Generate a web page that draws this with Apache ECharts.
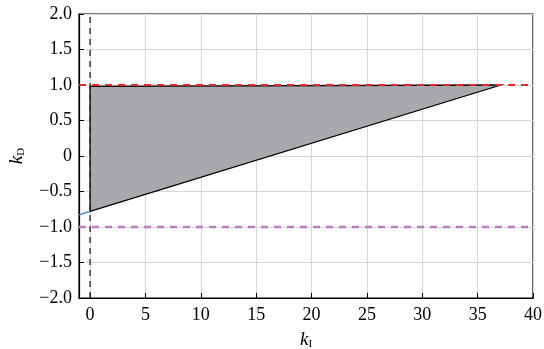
<!DOCTYPE html>
<html>
<head>
<meta charset="utf-8">
<script src="https://cdn.jsdelivr.net/npm/echarts@6/dist/echarts.min.js"></script>
<style>
  html, body { margin: 0; padding: 0; background: #fff; }
  #chart { width: 544px; height: 349px; }
</style>
</head>
<body>
<div id="chart"></div>
<script>
// 稳定区域 (k_I, k_D)
const regionKI = [0, 37.1, 0];
const regionKD = [0.98, 1.0, -0.78];
// 边界延长线
const boundaryKI = [-1, 0];
const boundaryKD = [-0.83, -0.78];
// 水平参考线 k_D = 1 和 k_D = -1
const refKI = [-1, 40];
const upperKD = [1, 1];
const lowerKD = [-1, -1];
// 竖直参考线 k_I = 0
const vertKI = [0, 0];
const vertKD = [-2, 2];
// 刻度
const xTicks = [0, 5, 10, 15, 20, 25, 30, 35, 40];

const font = "Liberation Serif";
const zip = (xs, ys) => xs.map((x, i) => [x, ys[i]]);

const chart = echarts.init(document.getElementById("chart"));
chart.setOption({
  animation: false,
  grid: {
    left: 79, right: 11, top: 14, bottom: 51,
    outerBoundsMode: "none",
    containLabel: false,
    show: true, borderColor: "#000", borderWidth: 1.2
  },
  xAxis: {
    type: "value",
    min: -1, max: 40,
    name: "{k|k}{s|I}",
    nameLocation: "middle",
    nameGap: 32,
    nameTextStyle: {
      rich: {
        k: { fontFamily: font, fontStyle: "italic", fontSize: 19, color: "#000" },
        s: { fontFamily: font, fontSize: 11, color: "#000", padding: [9, 0, 0, 0] }
      }
    },
    axisLine: { onZero: false, lineStyle: { color: "#000", width: 1.2 } },
    axisTick: { inside: true, length: 5, lineStyle: { color: "#000" }, customValues: xTicks },
    axisLabel: {
      customValues: xTicks,
      fontFamily: font, fontSize: 18, color: "#000", margin: 8
    },
    splitLine: { show: true, lineStyle: { color: "#d6d6d6", width: 1 } }
  },
  yAxis: {
    type: "value",
    min: -2, max: 2, interval: 0.5,
    name: "{k|k}{s|D}",
    nameLocation: "middle",
    nameRotate: 90,
    nameGap: 52,
    nameTextStyle: {
      rich: {
        k: { fontFamily: font, fontStyle: "italic", fontSize: 19, color: "#000" },
        s: { fontFamily: font, fontSize: 11, color: "#000", padding: [9, 0, 0, 0] }
      }
    },
    axisLine: { show: true, onZero: false, lineStyle: { color: "#000", width: 1.2 } },
    axisTick: { show: true, inside: true, length: 5, lineStyle: { color: "#000" } },
    axisLabel: {
      fontFamily: font, fontSize: 18, color: "#000", margin: 7,
      formatter: (v) => (v === 0 ? "0" : v.toFixed(1).replace("-", "\u2212"))
    },
    splitLine: { show: true, lineStyle: { color: "#d6d6d6", width: 1 } }
  },
  series: [
    {
      type: "custom",
      z: 2,
      data: zip(regionKI, regionKD),
      renderItem: (params, api) => {
        if (params.dataIndex !== 0) return;
        const pts = regionKI.map((x, i) => api.coord([x, regionKD[i]]));
        return {
          type: "polygon",
          shape: { points: pts },
          style: { fill: "#a8a9ac", stroke: "#000", lineWidth: 1.3 }
        };
      }
    },
    {
      type: "line", z: 3, symbol: "none",
      data: zip(boundaryKI, boundaryKD),
      lineStyle: { color: "#2f86c8", width: 1.3 }
    },
    {
      type: "line", z: 4, symbol: "none",
      data: zip(vertKI, vertKD),
      lineStyle: { color: "#222", width: 1.3, type: [6, 5] }
    },
    {
      type: "line", z: 5, symbol: "none",
      data: zip(refKI, upperKD),
      lineStyle: { color: "#e8262a", width: 2, type: [7, 6] }
    },
    {
      type: "line", z: 5, symbol: "none",
      data: zip(refKI, lowerKD),
      lineStyle: { color: "#c07cc2", width: 2.4, type: [7, 6] }
    }
  ]
});
</script>
</body>
</html>
